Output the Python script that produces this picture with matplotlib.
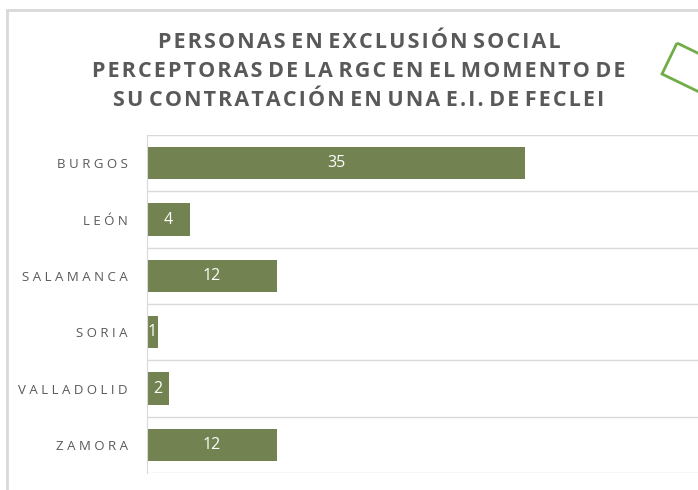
import matplotlib
matplotlib.use("Agg")
import matplotlib.pyplot as plt
from matplotlib.patches import Rectangle, Polygon

# data
provincias = ["BURGOS", "LEÓN", "SALAMANCA", "SORIA", "VALLADOLID", "ZAMORA"]
personas = [35, 4, 12, 1, 2, 12]
titulo_lineas = ["PERSONAS EN EXCLUSIÓN SOCIAL",
                 "PERCEPTORAS DE LA RGC EN EL MOMENTO DE",
                 "SU CONTRATACIÓN EN UNA E.I. DE FECLEI"]

bar_color = "#728351"
grid_color = "#d9d9d9"
text_color = "#595959"
fonts = ["Open Sans", "DejaVu Sans"]


def spaced(s, sep=" "):
    return sep.join(s)


def tracked(line):
    # hair space between letters of each word, like Excel's character spacing
    return " ".join("\u200a".join(w) for w in line.split(" "))


W, H = 698, 490
fig = plt.figure(figsize=(W / 100, H / 100), dpi=100)
fig.patch.set_facecolor("white")

# chart frame (only left and top visible, rest cut off)
fig.patches.append(Rectangle((7, -20), 760, H - 10 + 20, transform=None,
                             fill=False, edgecolor=grid_color, lw=2))

# green decorative shape in the top right corner
ux, uy = 0.9, -0.436
L = 70
A = (677, H - 43)
B = (662, H - 74)
C = (B[0] + L * ux, B[1] + L * uy)
D = (A[0] + L * ux, A[1] + L * uy)
fig.patches.append(Polygon([A, B, C, D], closed=True, transform=None,
                           fill=False, edgecolor="#70ad47", lw=2))

# axes: left edge at 147 px, runs past the right side of the picture
ax = fig.add_axes([147 / W, 17 / H, 594 / W, 338 / H])
y = range(len(provincias))
bars = ax.barh(y, personas, height=0.57, color=bar_color)
ax.set_xlim(0, 55)
ax.set_ylim(len(provincias) - 0.5, -0.5)

for b, v in zip(bars, personas):
    ax.text(b.get_x() + b.get_width() / 2, b.get_y() + b.get_height() / 2,
            str(v), ha="center", va="center", color="white", fontsize=11.5,
            family=fonts)

ax.set_yticks(list(y))
ax.set_yticklabels([spaced(p) for p in provincias], color=text_color,
                   fontsize=9.5, family=fonts)
ax.set_yticks([i - 0.5 for i in range(len(provincias) + 1)], minor=True)
ax.tick_params(axis="y", which="both", length=0, pad=14)
ax.set_xticks([])
ax.grid(axis="y", which="minor", color=grid_color, lw=1)
ax.set_axisbelow(True)
for s in ["top", "right", "bottom"]:
    ax.spines[s].set_visible(False)
ax.spines["left"].set_color(grid_color)

fig.text(359 / W, 1 - 71.5 / H, "\n".join(tracked(l) for l in titulo_lineas),
         ha="center", va="center", color=text_color, fontsize=15.5,
         fontweight="bold", family=fonts, linespacing=1.47)

fig.savefig("out.png", dpi=100)
